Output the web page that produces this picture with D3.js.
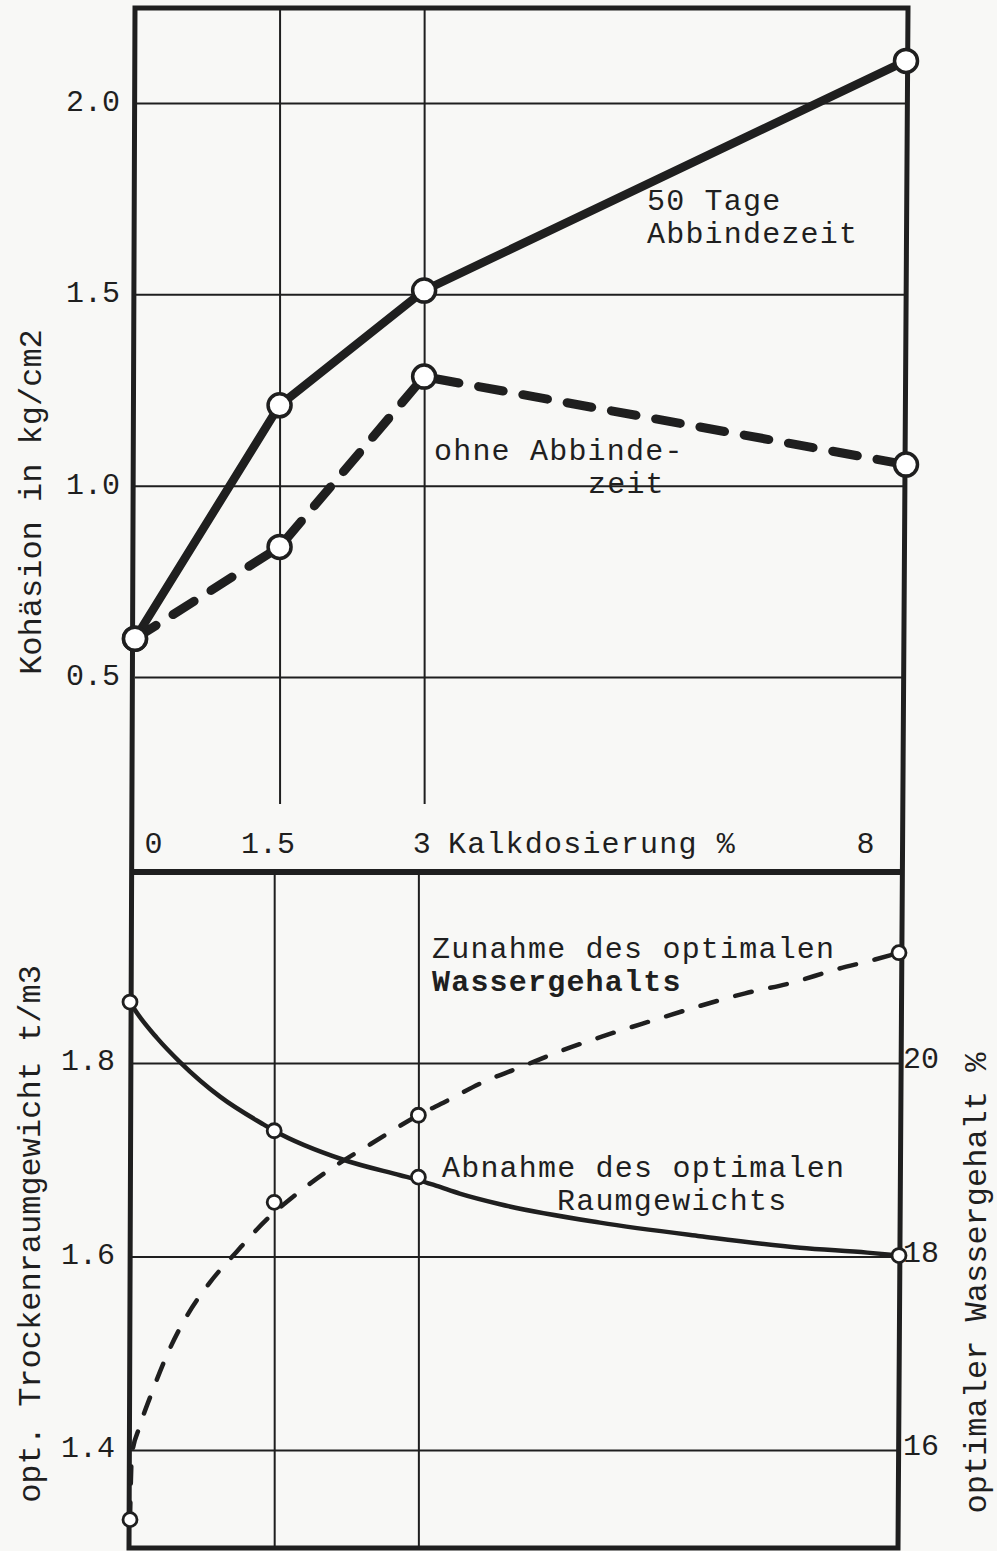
<!DOCTYPE html>
<html>
<head>
<meta charset="utf-8">
<script src="https://cdn.jsdelivr.net/npm/d3@7"></script>
<style>
  body { margin: 0; background: #f8f8f6; }
  svg { display: block; font-family: "Liberation Mono", "DejaVu Sans Mono", monospace; }
</style>
</head>
<body>
<svg width="997" height="1551"></svg>
<script>
// Kalkdosierung in %
const dosage = [0, 1.5, 3, 8];
const dosageTicks = [0, 1.5, 3, 8];

// Kohäsion in kg/cm2
const cohesion50Days = [0.60, 1.21, 1.51, 2.11];
const cohesionNoCuring = [0.60, 0.84, 1.285, 1.055];
const cohesionTicks = [0.5, 1.0, 1.5, 2.0];

// optimales Raumgewicht t/m3 (Messpunkte)
const densityMarkers = [1.863, 1.730, 1.682, 1.601];
// gezeichnete Kurve
const densityCurveX = [0, 0.05, 0.28, 0.52, 0.94, 1.38, 1.5, 2.22, 2.81, 3.0, 3.19, 3.43, 3.85, 4.89, 5.93, 6.97, 7.67, 8.0];
const densityCurveY = [1.863, 1.855, 1.826, 1.801, 1.765, 1.737, 1.730, 1.700, 1.684, 1.679, 1.673, 1.665, 1.654, 1.635, 1.621, 1.609, 1.604, 1.601];
const densityTicks = [1.4, 1.6, 1.8];

// optimaler Wassergehalt % (Messpunkte)
const waterMarkers = [15.28, 18.56, 19.46, 21.14];
// gezeichnete Kurve
const waterCurveX = [0, 0.02, 0.10, 0.23, 0.42, 0.60, 0.83, 1.11, 1.44, 1.70, 2.11, 2.50, 3.0, 3.28, 3.67, 4.07, 4.47, 4.90, 5.44, 5.93, 6.40, 6.89, 7.32, 7.75, 8.0];
const waterCurveY = [15.28, 15.95, 16.24, 16.60, 17.06, 17.40, 17.73, 18.05, 18.40, 18.62, 18.92, 19.16, 19.46, 19.60, 19.80, 19.96, 20.12, 20.27, 20.44, 20.59, 20.72, 20.83, 20.96, 21.07, 21.14];
const waterTicks = [16, 18, 20];

const ink = "#1f1f1f";
const svg = d3.select("svg");

let xTop = d3.scaleLinear().domain([0, 8]).range([135, 906]);
let yTop = d3.scaleLinear().domain([0.5, 2.0]).range([677, 103]);
let xBot = d3.scaleLinear().domain([0, 8]).range([130, 899]);
let yDens = d3.scaleLinear().domain([1.4, 1.8]).range([1450, 1063]);
let yWater = d3.scaleLinear().domain([16, 20]).range([1450, 1063]);

function clean(g) {
  g.attr("font-size", null).attr("font-family", null);
  g.select(".domain").remove();
  g.selectAll("line").attr("stroke", ink).attr("stroke-width", 2);
  g.selectAll("text").attr("fill", ink);
}

// grid, top panel
svg.append("g")
  .attr("transform", "translate(135,0)")
  .call(d3.axisLeft(yTop).tickValues(cohesionTicks).tickSize(-(906 - 135)).tickFormat(""))
  .call(clean);
svg.append("g")
  .attr("transform", "translate(0,804)")
  .call(d3.axisBottom(xTop).tickValues([1.5, 3]).tickSize(-(804 - 8)).tickFormat(""))
  .call(clean);

// grid, bottom panel
svg.append("g")
  .attr("transform", "translate(130,0)")
  .call(d3.axisLeft(yDens).tickValues(densityTicks).tickSize(-(899 - 130)).tickFormat(""))
  .call(clean);
svg.append("g")
  .attr("transform", "translate(0,1547)")
  .call(d3.axisBottom(xBot).tickValues([1.5, 3]).tickSize(-(1547 - 872)).tickFormat(""))
  .call(clean);

// frame
svg.append("path")
  .attr("d", "M135,8 L908,8 L898,1548 L129,1548 Z")
  .attr("fill", "none").attr("stroke", ink).attr("stroke-width", 5)
  .attr("stroke-linejoin", "miter");
svg.append("line")
  .attr("x1", 131).attr("x2", 904).attr("y1", 872).attr("y2", 872)
  .attr("stroke", ink).attr("stroke-width", 6);

// tick labels
svg.append("g")
  .attr("transform", "translate(135,0)")
  .call(d3.axisLeft(yTop).tickValues(cohesionTicks).tickSize(0).tickPadding(15).tickFormat(d3.format(".1f")))
  .call(clean)
  .selectAll("text").attr("font-size", 30).attr("dy", "0.25em");

svg.append("g")
  .attr("transform", "translate(0,853)")
  .call(d3.axisBottom(xTop).tickValues(dosageTicks).tickSize(0).tickFormat(d => String(d)))
  .call(clean)
  .selectAll("text")
  .attr("font-size", 30).attr("y", 0).attr("dy", 0)
  .attr("dx", (d, i) => [18, -12, -3, -41][i]);

svg.append("g")
  .attr("transform", "translate(130,0)")
  .call(d3.axisLeft(yDens).tickValues(densityTicks).tickSize(0).tickPadding(15).tickFormat(d3.format(".1f")))
  .call(clean)
  .selectAll("text").attr("font-size", 30).attr("dy", "0.22em");

svg.append("g")
  .attr("transform", "translate(899,0)")
  .call(d3.axisRight(yWater).tickValues(waterTicks).tickSize(0).tickPadding(4).tickFormat(d3.format("d")))
  .call(clean)
  .selectAll("text").attr("font-size", 30).attr("dy", "0.15em");

// top panel lines
let lineTop = d3.line()
  .x((d, i) => xTop(dosage[i]))
  .y(d => yTop(d));

svg.append("path")
  .attr("d", lineTop(cohesionNoCuring))
  .attr("fill", "none").attr("stroke", ink).attr("stroke-width", 9)
  .attr("stroke-dasharray", "25,20").attr("stroke-linecap", "round");

svg.append("path")
  .attr("d", lineTop(cohesion50Days))
  .attr("fill", "none").attr("stroke", ink).attr("stroke-width", 8.5)
  .attr("stroke-linejoin", "round");

[cohesionNoCuring, cohesion50Days].forEach(series => {
  svg.append("g").selectAll("circle")
    .data(series)
    .enter()
    .append("circle")
    .attr("cx", (d, i) => xTop(dosage[i]))
    .attr("cy", d => yTop(d))
    .attr("r", 11.5)
    .attr("fill", "#fff").attr("stroke", ink).attr("stroke-width", 3.5);
});

// bottom panel curves
let densityLine = d3.line()
  .x((d, i) => xBot(densityCurveX[i]))
  .y(d => yDens(d))
  .curve(d3.curveMonotoneX);
let waterLine = d3.line()
  .x((d, i) => xBot(waterCurveX[i]))
  .y(d => yWater(d))
  .curve(d3.curveMonotoneX);

svg.append("path")
  .attr("d", waterLine(waterCurveY))
  .attr("fill", "none").attr("stroke", ink).attr("stroke-width", 4.5)
  .attr("stroke-dasharray", "17,19").attr("stroke-linecap", "round");

svg.append("path")
  .attr("d", densityLine(densityCurveY))
  .attr("fill", "none").attr("stroke", ink).attr("stroke-width", 4.5);

svg.append("g").selectAll("circle")
  .data(densityMarkers)
  .enter()
  .append("circle")
  .attr("cx", (d, i) => xBot(dosage[i]))
  .attr("cy", d => yDens(d))
  .attr("r", 7)
  .attr("fill", "#fff").attr("stroke", ink).attr("stroke-width", 2.8);

svg.append("g").selectAll("circle")
  .data(waterMarkers)
  .enter()
  .append("circle")
  .attr("cx", (d, i) => xBot(dosage[i]))
  .attr("cy", d => yWater(d))
  .attr("r", 7)
  .attr("fill", "#fff").attr("stroke", ink).attr("stroke-width", 2.8);

// annotations, one text element per note, one tspan per line
function note(lines, bold) {
  let t = svg.append("text")
    .attr("font-size", 30)
    .attr("letter-spacing", 1.2)
    .attr("fill", ink)
    .attr("xml:space", "preserve");
  lines.forEach((l, i) => {
    let s = t.append("tspan").attr("x", l[1]).attr("y", l[2]).text(l[0]);
    if (bold && bold[i]) s.attr("font-weight", "bold");
  });
  return t;
}

note([["50 Tage", 647, 210], ["Abbindezeit", 647, 243]]);
note([["ohne Abbinde-", 434, 460], ["zeit", 588, 493]]);
note([["Kalkdosierung %", 448, 853]]);
note([["Zunahme des optimalen", 432, 958], ["Wassergehalts", 432, 991]], [false, true]);
note([["Abnahme des optimalen", 442, 1177], ["Raumgewichts", 557, 1210]]);

// axis titles
svg.append("text")
  .attr("transform", "translate(41,502) rotate(-90)")
  .attr("text-anchor", "middle").attr("font-size", 32).attr("fill", ink)
  .text("Kohäsion in kg/cm2");

svg.append("text")
  .attr("transform", "translate(40,1234) rotate(-90)")
  .attr("text-anchor", "middle").attr("font-size", 32).attr("fill", ink)
  .text("opt. Trockenraumgewicht t/m3");

svg.append("text")
  .attr("transform", "translate(986,1283) rotate(-90)")
  .attr("text-anchor", "middle").attr("font-size", 32).attr("fill", ink)
  .text("optimaler Wassergehalt %");
</script>
</body>
</html>
